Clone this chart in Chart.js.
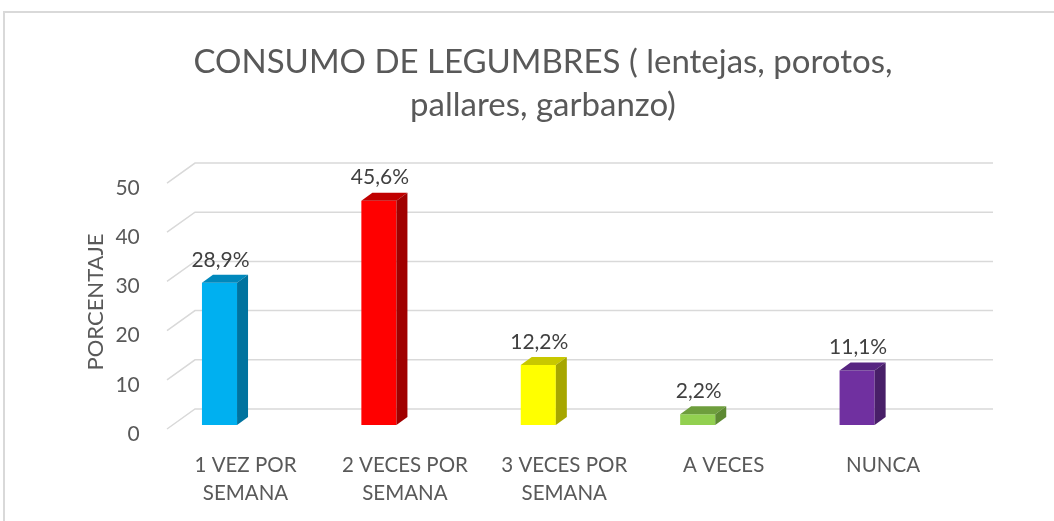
<!DOCTYPE html>
<html>
<head>
<meta charset="utf-8">
<script src="https://cdn.jsdelivr.net/npm/chart.js@4"></script>
<style>
  html, body { margin: 0; padding: 0; background: #fff; }
  #wrap { position: relative; width: 1054px; height: 521px; overflow: hidden; }
  #frame { position: absolute; left: 3px; top: 11px; width: 1100px; height: 600px; border: 2px solid #D9D9D9; box-sizing: border-box; }
  canvas { position: absolute; left: 0; top: 0; }
</style>
</head>
<body>
<div id="wrap">
  <div id="frame"></div>
  <canvas id="chart" width="1054" height="521"></canvas>
</div>
<script>
// data
var categories = [['1 VEZ POR', 'SEMANA'], ['2 VECES POR', 'SEMANA'], ['3 VECES POR', 'SEMANA'], 'A VECES', 'NUNCA'];
var values = [28.9, 45.6, 12.2, 2.2, 11.1];
var valueLabels = ['28,9%', '45,6%', '12,2%', '2,2%', '11,1%'];
var yTicks = [0, 10, 20, 30, 40, 50];

// front / top / side colours for each bar
var frontColors = ['#00B0F0', '#FF0000', '#FFFF00', '#92D050', '#7030A0'];
var topColors = ['#0088BC', '#C00000', '#C8C800', '#6E9E3D', '#572581'];
var sideColors = ['#00739F', '#A00000', '#A6A600', '#5E8A33', '#481F68'];

var DEPTH_X = 11, DEPTH_Y = 8;

// back-wall gridlines with slanted left ends
var wallPlugin = {
  id: 'wall',
  beforeDatasetsDraw: function (chart) {
    var ctx = chart.ctx;
    var y = chart.scales.y;
    ctx.save();
    ctx.strokeStyle = '#D9D9D9';
    ctx.lineWidth = 1.5;
    yTicks.forEach(function (v) {
      var py = y.getPixelForValue(v);
      ctx.beginPath();
      ctx.moveTo(167, py + 4);
      ctx.lineTo(195, py - 16);
      ctx.lineTo(993, py - 16);
      ctx.stroke();
    });
    ctx.restore();
  }
};

// top and side faces, plus value labels
var bar3dPlugin = {
  id: 'bar3d',
  afterDatasetsDraw: function (chart) {
    var ctx = chart.ctx;
    var meta = chart.getDatasetMeta(0);
    ctx.save();
    meta.data.forEach(function (bar, i) {
      var p = bar.getProps(['x', 'y', 'base', 'width'], true);
      var x0 = p.x - p.width / 2, x1 = p.x + p.width / 2;
      var top = p.y, bottom = p.base;
      ctx.fillStyle = topColors[i];
      ctx.beginPath();
      ctx.moveTo(x0, top);
      ctx.lineTo(x0 + DEPTH_X, top - DEPTH_Y);
      ctx.lineTo(x1 + DEPTH_X, top - DEPTH_Y);
      ctx.lineTo(x1, top);
      ctx.closePath();
      ctx.fill();
      ctx.fillStyle = sideColors[i];
      ctx.beginPath();
      ctx.moveTo(x1, top);
      ctx.lineTo(x1 + DEPTH_X, top - DEPTH_Y);
      ctx.lineTo(x1 + DEPTH_X, bottom - DEPTH_Y);
      ctx.lineTo(x1, bottom);
      ctx.closePath();
      ctx.fill();

      ctx.fillStyle = '#404040';
      ctx.font = '21px Lato';
      ctx.textAlign = 'center';
      ctx.textBaseline = 'middle';
      ctx.fillText(valueLabels[i], p.x + 1, top - 23);
    });
    ctx.restore();
  }
};

var ctx = document.getElementById('chart').getContext('2d');
var chart = new Chart(ctx, {
  type: 'bar',
  data: {
    labels: categories,
    datasets: [{
      data: values,
      backgroundColor: frontColors,
      borderWidth: 0,
      categoryPercentage: 1,
      barPercentage: 0.22
    }]
  },
  options: {
    responsive: false,
    animation: false,
    layout: { padding: { left: 32, right: 0, top: 0, bottom: 0 } },
    plugins: {
      legend: { display: false },
      tooltip: { enabled: false },
      title: {
        display: true,
        text: ['CONSUMO DE LEGUMBRES ( lentejas, porotos,', 'pallares, garbanzo)'],
        color: '#595959',
        font: { family: 'Lato', size: 33, weight: 'normal', lineHeight: 1.32 },
        padding: { top: 40.2, bottom: 51.7 }
      }
    },
    scales: {
      x: {
        grid: { display: false, drawTicks: false },
        border: { display: false },
        ticks: {
          color: '#595959',
          font: { family: 'Lato', size: 20.5, lineHeight: 1.366 },
          padding: 26,
          labelOffset: 26,
          maxRotation: 0,
          autoSkip: false
        },
        afterFit: function (s) { s.height = 96; }
      },
      y: {
        min: 0,
        max: 50,
        afterBuildTicks: function (s) { s.ticks = yTicks.map(function (v) { return { value: v }; }); },
        grid: { display: false, drawTicks: false },
        border: { display: false },
        ticks: {
          color: '#595959',
          font: { family: 'Lato', size: 21 },
          padding: 0,
          labelOffset: 9
        },
        title: {
          display: true,
          text: 'PORCENTAJE',
          color: '#595959',
          font: { family: 'Lato', size: 22, weight: 'normal' },
          padding: { top: 51, bottom: 0 }
        },
        afterFit: function (s) { s.width = 107.8; }
      },
      // empty right axis that only reserves the space right of the plot
      yRight: {
        position: 'right',
        grid: { display: false, drawTicks: false },
        border: { display: false },
        ticks: { display: false },
        afterFit: function (s) { s.width = 117.2; }
      }
    }
  },
  plugins: [wallPlugin, bar3dPlugin]
});
</script>
</body>
</html>
